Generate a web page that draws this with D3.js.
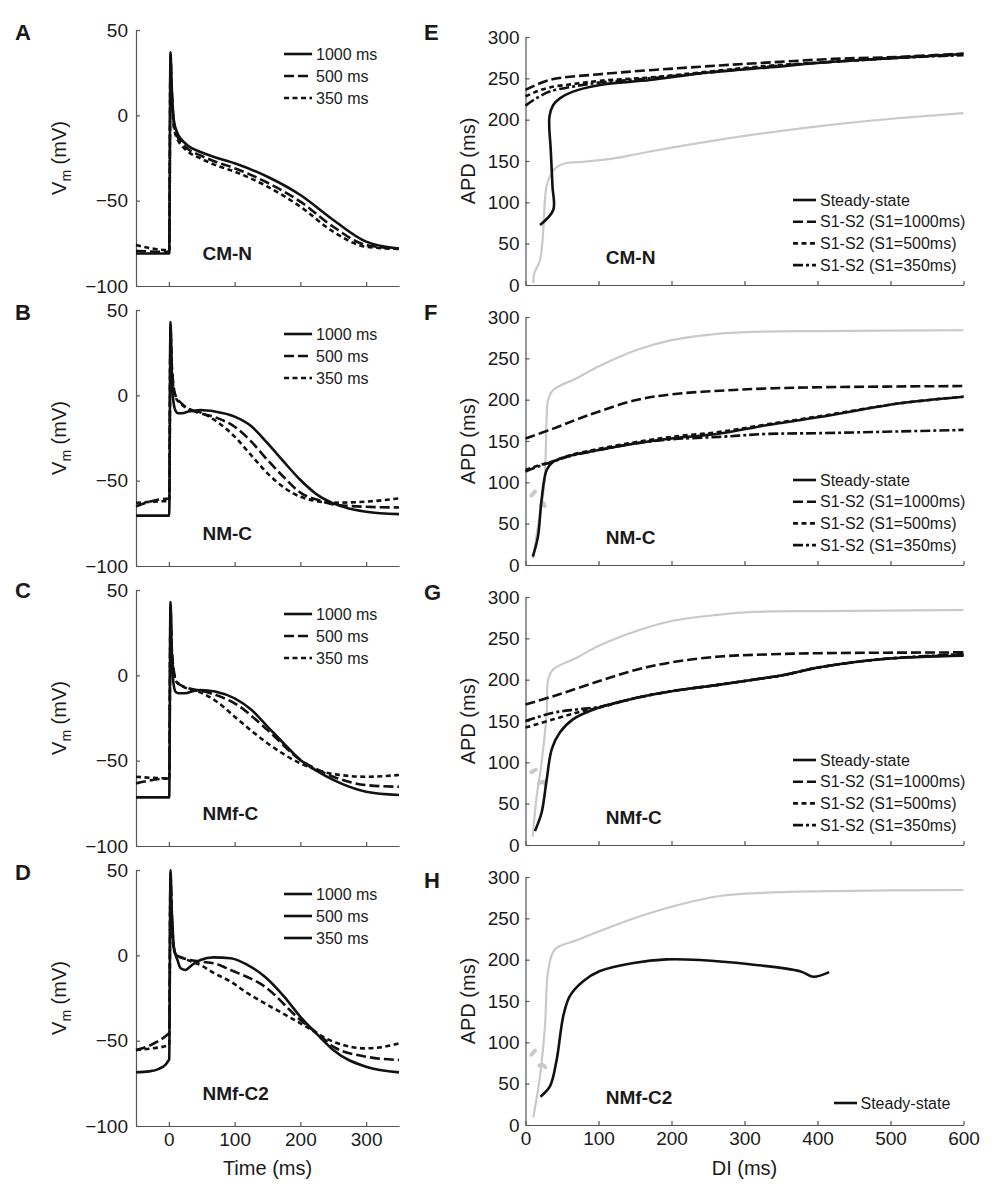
<!DOCTYPE html>
<html><head><meta charset="utf-8">
<script src="https://cdn.jsdelivr.net/npm/d3@7"></script>
<style>
body{margin:0;background:#fff}
svg{display:block}
text{font-family:Arial,"Liberation Sans",sans-serif;fill:#1a1a1a}
</style>
</head><body><svg id="c" width="999" height="1194"></svg>
<script>
// ---------------- DATA ----------------
// Action potential traces: [time (ms), Vm (mV)]
const cmN_1000 = [[-50,-81],[0.5,-81],[2.5,37],[4,20],[5.6,7],[7.6,-3],[13,-10.5],[20,-14.5],[28,-17.5],[48,-21.5],[70,-24.5],[100,-28.1],[150,-36],[200,-46.7],[250,-61.3],[300,-74],[350,-78]];
const cmN_500  = [[-50,-79.5],[0.5,-80],[2.5,35],[4,18],[5.6,5],[7.6,-5],[13,-12.5],[20,-16.5],[28,-19.5],[48,-23.5],[70,-27],[100,-31],[150,-39.5],[200,-50.6],[250,-65.3],[300,-76],[350,-78]];
const cmN_350  = [[-50,-76],[0.5,-79],[2.5,33],[4,16],[5.6,3],[7.6,-7],[13,-14],[20,-18],[28,-21],[48,-25.2],[70,-29],[100,-33],[150,-41.8],[200,-53.5],[250,-68.2],[300,-77],[350,-78.3]];

const nmC_1000 = [[-50,-70.5],[0.5,-70.5],[2.5,43],[4,20],[6,0],[10,-9],[14,-10.5],[20,-10.5],[30,-9.5],[48,-8.6],[70,-9.5],[100,-12.5],[125,-18],[150,-28],[175,-39],[200,-49.6],[230,-59.4],[250,-63.3],[300,-68.2],[350,-69.6]];
const nmC_500  = [[-50,-65],[0,-60.5],[0.5,-60.5],[2.5,40],[4,22],[7,6],[10,0],[20,-5],[30,-8],[48,-10.5],[75,-13.5],[100,-18.4],[125,-27],[150,-37.9],[175,-48],[200,-57],[230,-61.7],[250,-63.9],[300,-65.3],[350,-65.7]];
const nmC_350  = [[-50,-63],[0,-62],[0.5,-62],[2.5,38],[4,20],[7,4],[10,-1],[20,-5.5],[30,-8],[48,-10],[75,-16],[100,-24.2],[125,-35],[150,-45.7],[175,-54],[200,-59.4],[250,-62.9],[300,-62.3],[350,-60.4]];

const nmfC_1000 = [[-50,-71.5],[0.5,-71.5],[2.5,43],[4,20],[6,-1],[10,-9.5],[15,-10.5],[25,-10.5],[35,-9.5],[48,-8.6],[70,-9.5],[100,-13.5],[125,-20],[150,-30],[175,-40],[200,-49.6],[225,-56],[250,-61.3],[300,-68.2],[350,-70.1]];
const nmfC_500  = [[-50,-63.3],[0,-60.4],[0.5,-60.4],[2.5,40],[4,20],[7,4],[12,-4],[30,-7.6],[48,-9],[75,-12],[100,-16.4],[150,-32],[200,-49.6],[225,-55],[250,-59.4],[300,-64.3],[350,-65.3]];
const nmfC_350  = [[-50,-59.4],[0,-60.4],[0.5,-60.4],[2.5,38],[4,18],[7,3],[12,-4],[30,-8],[48,-10],[75,-16],[100,-24.2],[150,-39.8],[200,-51.6],[250,-57.8],[300,-59.4],[350,-58.4]];

const nmfC2_1000 = [[-50,-68.5],[-30,-68],[-15,-66.5],[-5,-64],[0,-61.3],[0.5,-61],[2.5,50],[4,30],[5.6,17],[7.6,5],[13,-2.7],[18,-7.6],[25,-8.6],[35,-5.7],[48,-2.7],[68,-1.2],[94,-1.7],[120,-5.7],[146,-12.5],[175,-24],[200,-36],[230,-48],[250,-55.5],[300,-65.3],[350,-68.6]];
const nmfC2_500  = [[-50,-55.5],[-30,-53],[-15,-50],[0,-45.7],[0.5,-45.5],[2.5,48],[4,28],[7.6,4],[12,0],[23,-1.8],[48,-3.7],[69,-4.7],[94,-8.6],[146,-18.4],[200,-37.9],[230,-47],[250,-53.5],[300,-59.4],[350,-61.3]];
const nmfC2_350  = [[-50,-55.5],[-25,-54.5],[0,-52.6],[0.5,-52.5],[2.5,45],[4,25],[7.6,3],[12,0],[20,-1.5],[48,-5.7],[69,-10.5],[94,-15.4],[120,-22.3],[146,-28.1],[200,-39.8],[250,-50.6],[300,-54.5],[320,-54],[350,-51.6]];

// Restitution curves: [DI (ms), APD (ms)]
const E_gray   = [[10.7,2],[12,14],[19.9,30],[24,62],[26.7,104],[29,120],[33.6,132],[40.4,141],[47.3,145],[56.4,147.6],[79,149],[102,151],[125,153.8],[148,157.6],[170.5,161.5],[239,172],[330,184],[421,194],[513,202],[600,208]];
const E_steady = [[19.9,72.6],[38,90.7],[37,119],[34.6,163],[32.8,203.6],[38,217.7],[47,225.8],[65,233.9],[102,242],[170.5,248],[239,256],[330,263],[421,270],[513,275],[600,279.4]];
const E_s1000  = [[0,236],[33,248],[102,255],[239,264],[330,269],[421,273.5],[513,276],[600,280]];
const E_s500   = [[0,228],[15,234],[33,239],[65,243],[102,247],[170,251],[239,257],[330,265],[421,270],[513,275],[600,279]];
const E_s350   = [[0,217],[15,226],[33,234],[65,240],[102,245],[170,250],[239,256],[330,264],[421,270],[513,275],[600,278]];

const F_gray   = [[10.7,8],[14,30],[20,62],[26,100],[29,179],[31,200],[38,211.7],[70,226],[100,240],[152,260],[200,272],[266,280],[312,282],[403,283],[600,284]];
const F_blobs  = [[[8,84],[13,89]],[[21,72],[24,76],[27,70]]];
const F_steady = [[10,10],[17,34],[22,78.6],[29,115],[38,125],[60,132],[100,139],[150,147],[200,153],[266,159],[330,169],[403,179],[513,195.6],[600,203.6]];
const F_s1000  = [[0,153],[38,165],[70,176],[100,185.5],[152,199.6],[200,206.5],[266,210.8],[330,213.5],[403,215],[600,216.5]];
const F_s500   = [[0,115],[20,121],[38,125.5],[60,132.5],[100,140.5],[150,148.5],[200,155],[266,161],[330,170],[403,180],[513,195.6],[600,203.6]];
const F_s350   = [[0,113],[20,120],[38,125],[60,131.5],[100,139],[150,147],[200,152],[266,155],[330,158.5],[403,159.5],[600,163.4]];

const G_gray   = [[10,10],[15.3,59],[22,99.6],[29,160],[31,200],[38,212.5],[70,226.5],[100,240.7],[152,258.8],[200,271],[266,278.7],[312,282],[403,283],[600,284.3]];
const G_blobs  = [[[8,88],[14,91]],[[19,75],[25,77],[28,72]]];
const G_steady = [[13,17],[22,39],[29,79],[36,116],[47,136],[65,152],[100,166],[152,178],[200,186],[266,194],[312,200],[350,205],[403,215],[490,225],[600,229]];
const G_s1000  = [[0,170],[38,180],[100,198],[152,212],[200,221],[266,228],[330,230.5],[403,232],[600,233]];
const G_s500   = [[0,142],[38,152],[70,160],[100,166],[152,178],[200,186],[266,194],[312,200],[350,205],[403,215],[490,225],[600,230]];
const G_s350   = [[0,150],[38,160],[70,164],[100,167],[152,178],[200,186],[266,194],[312,200],[350,205],[403,215],[490,225],[600,231]];

const H_gray   = [[10.7,9],[19.9,59],[26.7,120],[31.3,188],[40.4,212.5],[70,223.5],[102,234.7],[152,251],[200,264],[266,277],[330,281],[421,283],[600,284.3]];
const H_blobs  = [[[8,85],[13,90]],[[19,72],[24,73],[27,70]]];
const H_steady = [[20.5,34.3],[33.6,47],[42.7,79],[51.8,132],[60.7,156],[79,174],[102,186.3],[148,196],[193.4,200.4],[239,199.6],[307,194.4],[376,186],[394,179.4],[416,185]];

// Labels / ticks
const apLegend = ["1000 ms","500 ms","350 ms"];
const resLegend = ["Steady-state","S1-S2 (S1=1000ms)","S1-S2 (S1=500ms)","S1-S2 (S1=350ms)"];
const cellNames = ["CM-N","NM-C","NMf-C","NMf-C2"];
const leftLetters = ["A","B","C","D"];
const rightLetters = ["E","F","G","H"];
const timeTicks = [0,100,200,300];
const vmTicks = [-100,-50,0,50];
const diTicks = [0,100,200,300,400,500,600];
const apdTicks = [0,50,100,150,200,250,300];

// ---------------- DRAW ----------------
const svg = d3.select("#c");
const BLACK = "#111", GRAY = "#c9c9c9", AXIS = "#555";
const dashes = {solid:null, dash:"10,4", dot:"5,3.5", dashdot:"10,3,3,3"};

const apSets = [
  {traces:[cmN_1000,cmN_500,cmN_350], leg:["solid","dash","dot"]},
  {traces:[nmC_1000,nmC_500,nmC_350], leg:["solid","dash","dot"]},
  {traces:[nmfC_1000,nmfC_500,nmfC_350], leg:["solid","dash","dot"]},
  {traces:[nmfC2_1000,nmfC2_500,nmfC2_350], leg:["solid","solid","solid"]}
];
const traceStyles = ["solid","dash","dot"];
const resSets = [
  {gray:E_gray, blobs:[], curves:[E_steady,E_s1000,E_s500,E_s350]},
  {gray:F_gray, blobs:F_blobs, curves:[F_steady,F_s1000,F_s500,F_s350]},
  {gray:G_gray, blobs:G_blobs, curves:[G_steady,G_s1000,G_s500,G_s350]},
  {gray:H_gray, blobs:H_blobs, curves:[H_steady]}
];
const resStyles = ["solid","dash","dot","dashdot"];

const leftTops = [30,310,590,870], leftH = 256, lx0 = 136, lx1 = 399;
const rightTops = [37,317,597,877], rightH = 248, rx0 = 525.5, rx1 = 963.5;
const letterY = [[32,32],[312,312],[590,592],[872,880]];

function styleAxis(g){
  g.select(".domain").attr("stroke",AXIS).attr("stroke-width",1.2);
  g.selectAll(".tick line").attr("stroke",AXIS).attr("stroke-width",1.2);
  g.selectAll(".tick text").attr("font-size",19).attr("fill","#1a1a1a")
    .style("font-family",'Arial,"Liberation Sans",sans-serif');
}

for (let i=0;i<4;i++){
  // ---------- Left AP panel ----------
  const top = leftTops[i], bot = top+leftH;
  const x = d3.scaleLinear().domain([-50,350]).range([lx0,lx1]);
  const y = d3.scaleLinear().domain([-100,50]).range([bot,top]);
  const g = svg.append("g");
  const xa = d3.axisBottom(x).tickValues(timeTicks).tickSizeInner(-4).tickSizeOuter(0).tickPadding(7);
  if (i<3) xa.tickFormat("");
  g.append("g").attr("transform",`translate(0,${bot})`).call(xa).call(styleAxis);
  g.append("g").attr("transform",`translate(${lx0},0)`)
    .call(d3.axisLeft(y).tickValues(vmTicks).tickSizeInner(-4).tickSizeOuter(0).tickPadding(8)).call(styleAxis);
  const line = d3.line().x(d=>x(d[0])).y(d=>y(d[1])).curve(d3.curveMonotoneX);
  for (let k=2;k>=0;k--){
    g.append("path").attr("d",line(apSets[i].traces[k])).attr("fill","none")
      .attr("stroke",BLACK).attr("stroke-width",2.6).attr("stroke-linejoin","round")
      .attr("stroke-dasharray",dashes[traceStyles[k]]);
  }
  apLegend.forEach((t,k)=>{
    const ly = top+24+k*22;
    g.append("line").attr("x1",lx0+148).attr("x2",lx0+176).attr("y1",ly).attr("y2",ly)
      .attr("stroke",BLACK).attr("stroke-width",2.6).attr("stroke-dasharray",dashes[apSets[i].leg[k]]);
    g.append("text").attr("x",lx0+180).attr("y",ly).attr("dy","0.35em").attr("font-size",16).text(t);
  });
  g.append("text").attr("x",x(51)).attr("y",y(-81)).attr("dy","0.35em")
    .attr("font-size",19).attr("font-weight","bold").text(cellNames[i]);
  const yl = g.append("text").attr("transform",`translate(66,${(top+bot)/2}) rotate(-90)`)
    .attr("text-anchor","middle").attr("font-size",20);
  yl.append("tspan").text("V");
  yl.append("tspan").attr("font-size",14).attr("dy",5).text("m");
  yl.append("tspan").attr("dy",-5).text(" (mV)");
  g.append("text").attr("x",15).attr("y",letterY[i][0]).attr("dy","0.35em")
    .attr("font-size",22).attr("font-weight","bold").text(leftLetters[i]);

  // ---------- Right restitution panel ----------
  const rtop = rightTops[i], rbot = rtop+rightH;
  const rx = d3.scaleLinear().domain([0,600]).range([rx0,rx1]);
  const ry = d3.scaleLinear().domain([0,300]).range([rbot,rtop]);
  const r = svg.append("g");
  const rxa = d3.axisBottom(rx).tickValues(diTicks).tickSizeInner(-4).tickSizeOuter(0).tickPadding(7);
  if (i<3) rxa.tickFormat("");
  r.append("g").attr("transform",`translate(0,${rbot})`).call(rxa).call(styleAxis);
  r.append("g").attr("transform",`translate(${rx0},0)`)
    .call(d3.axisLeft(ry).tickValues(apdTicks).tickSizeInner(-4).tickSizeOuter(0).tickPadding(6)).call(styleAxis);
  const rline = d3.line().x(d=>rx(d[0])).y(d=>ry(d[1])).curve(d3.curveCatmullRom.alpha(0.5));
  const set = resSets[i];
  r.append("path").attr("d",rline(set.gray)).attr("fill","none").attr("stroke",GRAY).attr("stroke-width",2.2);
  set.blobs.forEach(b=>{
    r.append("path").attr("d",d3.line().x(d=>rx(d[0])).y(d=>ry(d[1]))(b)).attr("fill","none")
      .attr("stroke",GRAY).attr("stroke-width",4).attr("stroke-dasharray","3,2").attr("stroke-linecap","round");
  });
  for (let k=set.curves.length-1;k>=0;k--){
    r.append("path").attr("d",rline(set.curves[k])).attr("fill","none")
      .attr("stroke",BLACK).attr("stroke-width",2.6).attr("stroke-linejoin","round")
      .attr("stroke-dasharray",dashes[resStyles[k]]);
  }
  if (i<3){
    resLegend.forEach((t,k)=>{
      const ly = rbot-85+k*21.7;
      r.append("line").attr("x1",rx0+267.5).attr("x2",rx0+290.5).attr("y1",ly).attr("y2",ly)
        .attr("stroke",BLACK).attr("stroke-width",2.6).attr("stroke-dasharray",dashes[resStyles[k]]);
      r.append("text").attr("x",rx0+294.5).attr("y",ly).attr("dy","0.35em").attr("font-size",16).text(t);
    });
  } else {
    const ly = rbot-22;
    r.append("line").attr("x1",rx0+308.5).attr("x2",rx0+331.5).attr("y1",ly).attr("y2",ly)
      .attr("stroke",BLACK).attr("stroke-width",2.6);
    r.append("text").attr("x",rx0+335).attr("y",ly).attr("dy","0.35em").attr("font-size",16).text(resLegend[0]);
  }
  r.append("text").attr("x",rx(110)).attr("y",ry(33)).attr("dy","0.35em")
    .attr("font-size",19).attr("font-weight","bold").text(cellNames[i]);
  r.append("text").attr("transform",`translate(468,${(rtop+rbot)/2}) rotate(-90)`)
    .attr("text-anchor","middle").attr("dy","0.35em").attr("font-size",20).text("APD (ms)");
  r.append("text").attr("x",424).attr("y",letterY[i][1]).attr("dy","0.35em")
    .attr("font-size",22).attr("font-weight","bold").text(rightLetters[i]);
}
svg.append("text").attr("x",(lx0+lx1)/2).attr("y",1168).attr("dy","0.35em").attr("text-anchor","middle")
  .attr("font-size",20).text("Time (ms)");
svg.append("text").attr("x",(rx0+rx1)/2).attr("y",1168).attr("dy","0.35em").attr("text-anchor","middle")
  .attr("font-size",20).text("DI (ms)");
</script></body></html>
